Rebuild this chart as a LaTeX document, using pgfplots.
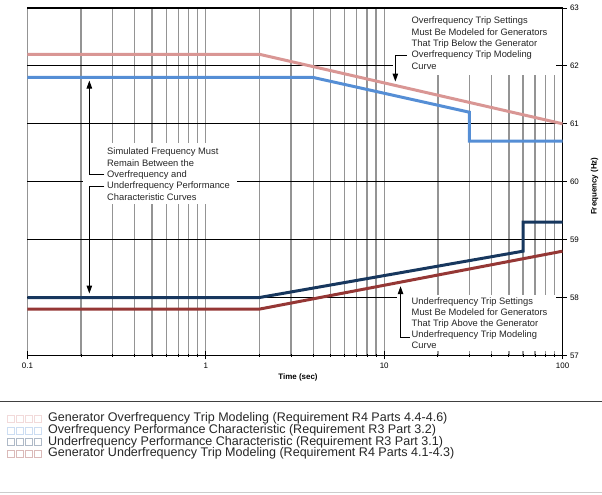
\documentclass[border=0pt]{standalone}
\usepackage{fontspec}
\setmainfont{Liberation Sans}
\usepackage{pgfplots}
\pgfplotsset{compat=1.18}
\usetikzlibrary{arrows.meta}

\definecolor{oftrip}{RGB}{217,150,148}
\definecolor{ofperf}{RGB}{85,142,213}
\definecolor{ufperf}{RGB}{23,55,94}
\definecolor{uftrip}{RGB}{149,55,53}

\newcommand\annot{\fontsize{9.4}{11.3}\selectfont}
\newcommand\axlab{\fontsize{8}{9.6}\selectfont\bfseries}

\pgfplotsset{
  sqbox/.style={legend image code/.code={%
    \foreach \k in {0,1,2,3}{\draw[draw=#1, line width=0.5bp] ({\k*9bp},-3.5bp) rectangle ++(7bp,7bp);}}},
}

\begin{document}
\begin{tikzpicture}
\begin{axis}[
  name=ax, at={(0,0)}, anchor=south west,
  scale only axis, width=536bp, height=348bp,
  xmode=log, xmin=0.1, xmax=100, ymin=57, ymax=63,
  axis x line*=bottom, axis y line*=right,
  x axis line style={line width=1.3bp, black},
  y axis line style={line width=1bp, black},
  xtick={0.1,1,10,100}, xticklabels={0.1,1,10,100},
  minor xtick={0.2,0.3,0.4,0.5,0.6,0.7,0.8,0.9,2,3,4,5,6,7,8,9,20,30,40,50,60,70,80,90},
  ytick={57,58,59,60,61,62,63},
  xmajorgrids, xminorgrids, ymajorgrids,
  major x grid style={black!42, line width=1.3bp},
  minor x grid style={black!42, line width=1.3bp},
  major y grid style={black, line width=1bp},
  tick align=center, major tick length=8bp, minor tick length=3bp,
  tick style={black, line width=0.8bp},
  ticklabel style={font=\fontsize{8}{9.6}\selectfont},
  /pgf/number format/assume math mode=true,
  xlabel={Time (sec)}, ylabel={Frequency (Hz)},
  every axis x label/.style={at={(axis description cs:0.5056,-0.0624)}, anchor=center, font=\axlab},
  every axis y label/.style={at={(axis description cs:1.0597,0.4871)}, rotate=90, anchor=center, font=\axlab},
  legend cell align=left,
  legend style={at={(axis description cs:-0.0392,-0.165)}, anchor=north west,
    draw=none, fill=none, inner sep=0pt, row sep=0pt,
    font=\fontsize{12.6}{14}\selectfont, text=black!85,
    nodes={inner sep=0pt, text height=8.9bp, text depth=2.8bp},
    /tikz/every odd column/.append style={column sep=7bp}},
]
% Generator overfrequency trip modeling curve
\addplot[oftrip, line width=3bp, sqbox=oftrip!35] coordinates {(0.1,62.2) (2,62.2) (100,61.0)};
\addlegendentry{Generator Overfrequency Trip Modeling (Requirement R4 Parts 4.4-4.6)}
% Overfrequency performance characteristic
\addplot[ofperf, line width=3bp, sqbox=ofperf!30] coordinates {(0.1,61.8) (4,61.8) (30,61.2) (30,60.7) (100,60.7)};
\addlegendentry{Overfrequency Performance Characteristic (Requirement R3 Part 3.2)}
% Underfrequency performance characteristic
\addplot[ufperf, line width=3bp, sqbox=ufperf!35] coordinates {(0.1,58.0) (2,58.0) (60,58.8) (60,59.3) (100,59.3)};
\addlegendentry{Underfrequency Performance Characteristic (Requirement R3 Part 3.1)}
% Generator underfrequency trip modeling curve
\addplot[uftrip, line width=3bp, sqbox=uftrip!35] coordinates {(0.1,57.8) (2,57.8) (100,58.8)};
\addlegendentry{Generator Underfrequency Trip Modeling (Requirement R4 Parts 4.1-4.3)}
\end{axis}

% annotations, in a frame measured from the top left corner
\begin{scope}[x=1bp, y=-1bp, shift={(-27bp,356bp)}]
  \draw[black, line width=1.3bp] (27,8) -- (563,8);
  \fill[white] (83,143) rectangle (237,204);
  \fill[white] (393,9) rectangle (556.5,75);
  \fill[white] (397,295) rectangle (556.5,352);
  \foreach \t [count=\i from 0] in {Simulated Frequency Must,Remain Between the,Overfrequency and,Underfrequency Performance,Characteristic Curves}
    \node[anchor=base west, inner sep=0pt, font=\annot, text=black!85] at (106.7,155.0+11.35*\i) {\t};
  \foreach \t [count=\i from 0] in {Overfrequency Trip Settings,Must Be Modeled for Generators,That Trip Below the Generator,Overfrequency Trip Modeling,Curve}
    \node[anchor=base west, inner sep=0pt, font=\annot, text=black!85] at (411.7,24.0+11.3*\i) {\t};
  \foreach \t [count=\i from 0] in {Underfrequency Trip Settings,Must Be Modeled for Generators,That Trip Above the Generator,Underfrequency Trip Modeling,Curve}
    \node[anchor=base west, inner sep=0pt, font=\annot, text=black!85] at (411.7,305.0+11.1*\i) {\t};
  \begin{scope}[line width=1bp, black, -{Triangle[length=8bp,width=5.5bp]}]
    \draw (104,174.3) -- (89,174.3) -- (89,80.7);
    \draw (104,186.5) -- (89,186.5) -- (89,294);
    \draw (407,56) -- (395.5,56) -- (395.5,81.7);
    \draw (410,338.5) -- (400.7,338.5) -- (400.7,286.7);
  \end{scope}
  \draw[black!75, line width=1bp] (0,402) -- (602,402);
  \draw[black!20, line width=1bp] (0,493.8) -- (602,493.8);
  \path (0,0) rectangle (602,495);
\end{scope}
\end{tikzpicture}
\end{document}
